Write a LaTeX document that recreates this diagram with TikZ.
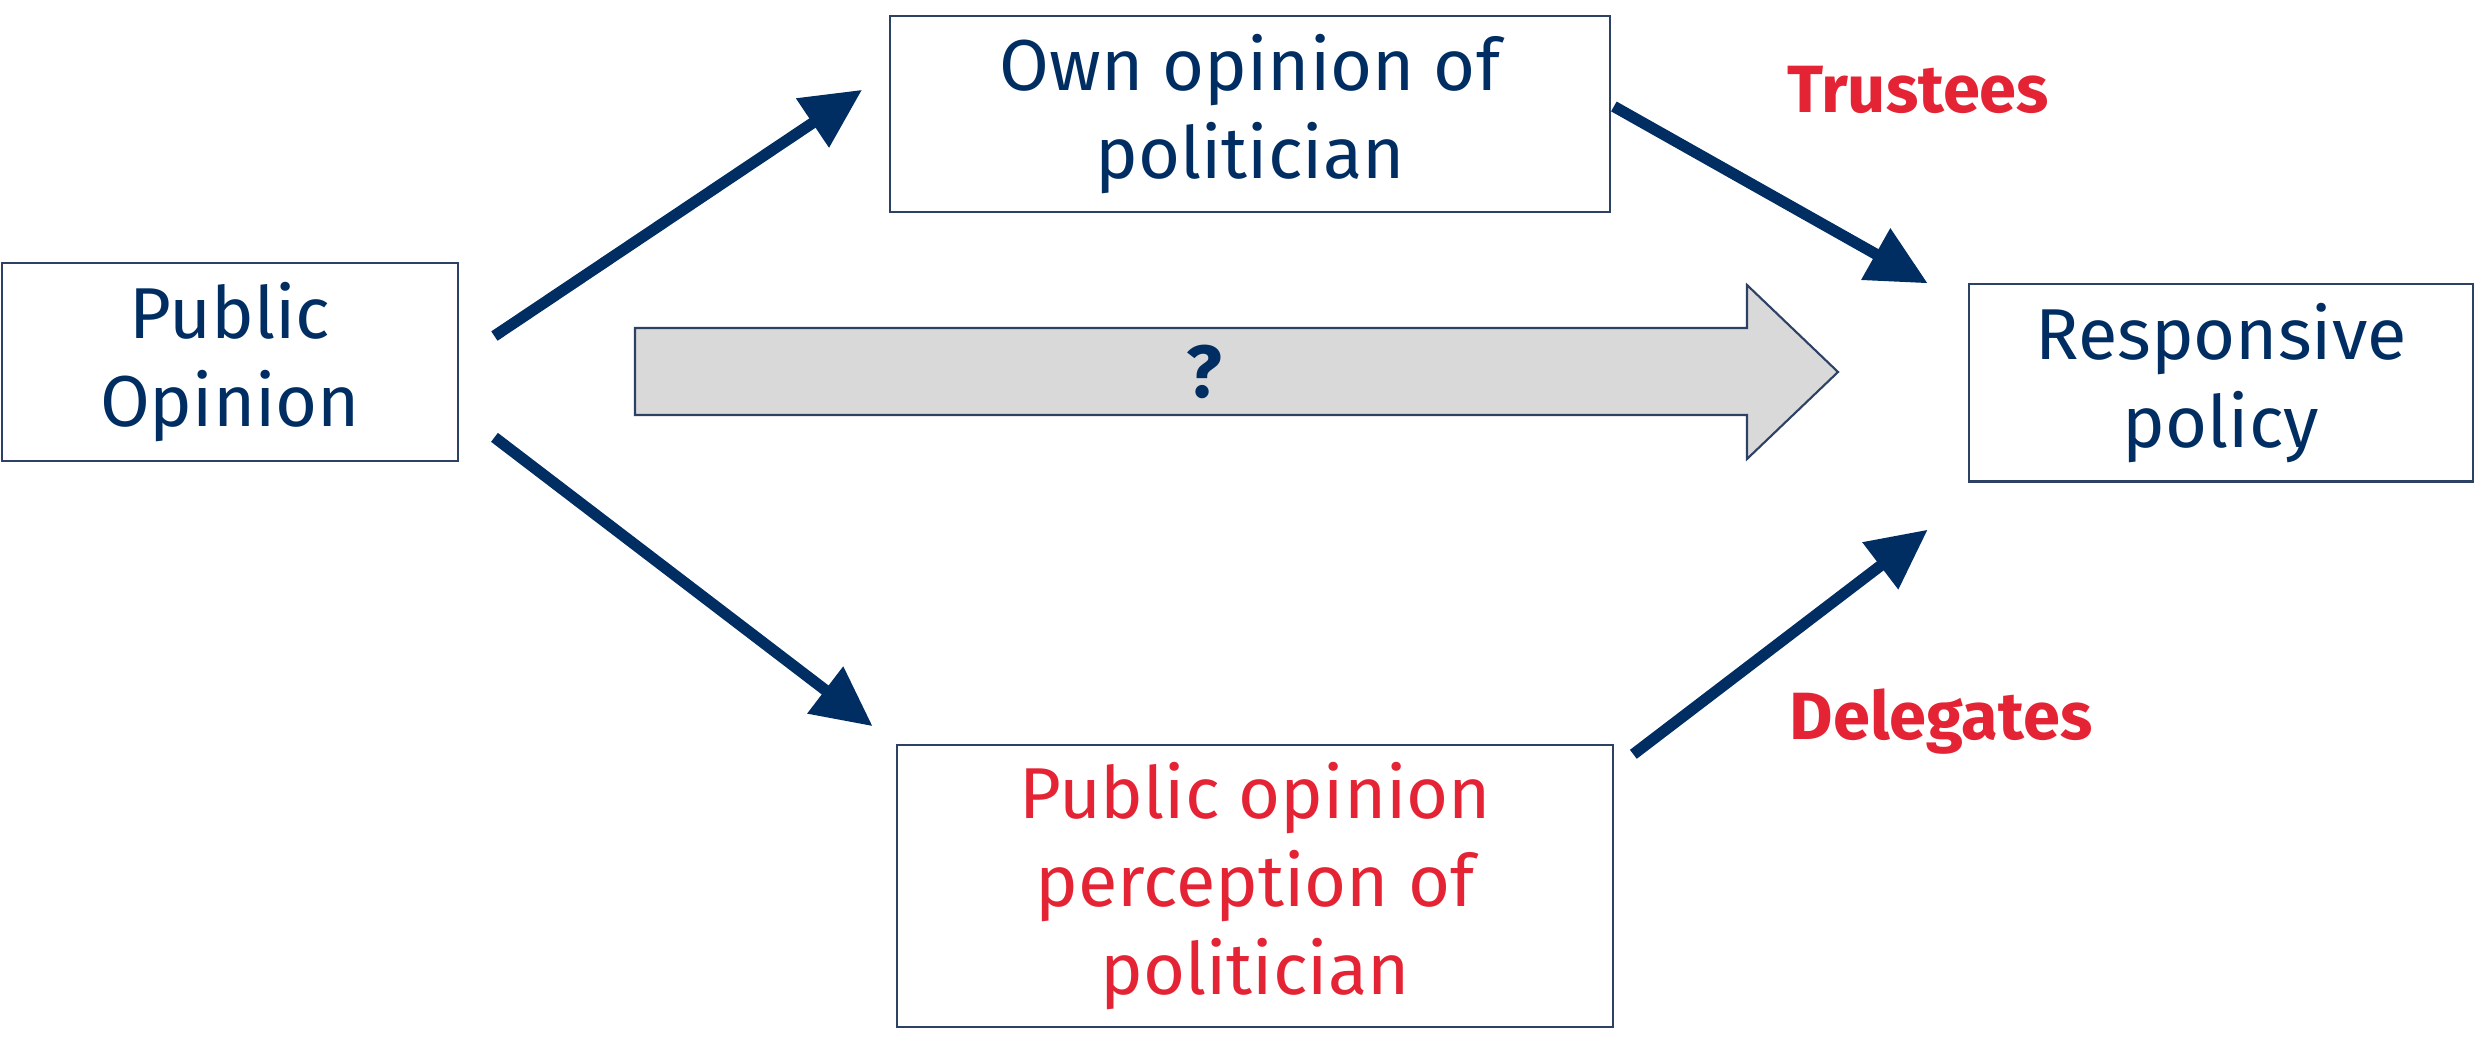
\documentclass[tikz,border=0pt]{standalone}
\usepackage{fontspec}
\setmainfont{Fira Sans}
\usetikzlibrary{arrows.meta, calc}
\definecolor{navy}{RGB}{0,45,98}
\definecolor{redlabel}{RGB}{228,35,52}
\definecolor{boxline}{RGB}{45,65,100}
\definecolor{arrowgray}{RGB}{217,217,217}

\begin{document}
\begin{tikzpicture}[x=0.01cm, y=-0.01cm,
  box/.style={draw=boxline, line width=0.6pt, align=center, inner sep=0pt,
    font=\fontsize{20.5}{25}\selectfont, text=navy},
  link/.style={draw=navy, line width=3.2pt, -{Triangle[length=17pt,width=16pt]}},
  rolelabel/.style={font=\fontsize{19}{19}\selectfont\bfseries, text=redlabel}]
\useasboundingbox (0,0) rectangle (2484,1037);
\node[box, minimum width=4.55cm, minimum height=1.98cm] (po) at (230,362) {Public\\Opinion};
\node[box, minimum width=7.2cm, minimum height=1.96cm] (own) at (1250,114) {Own opinion of\\politician};
\node[box, minimum width=7.16cm, minimum height=2.82cm, text=redlabel] (perc) at (1255,886) {Public opinion\\perception of\\politician};
\node[box, minimum width=5.04cm, minimum height=1.97cm] (resp) at (2221,383) {Responsive\\policy};
% direct link, unknown
\draw[draw=boxline, line width=0.6pt, fill=arrowgray] (635,328) -- (1747,328) -- (1747,285) -- (1838,372) -- (1747,459) -- (1747,415) -- (635,415) -- cycle;
\node[font=\fontsize{21}{21}\selectfont\bfseries, text=navy] (q) at (1204,372) {?};
\draw[link, shorten <=0.43cm, shorten >=0.32cm] ([yshift=0.02cm]po.east) -- ([yshift=0.42cm]own.west);
\draw[link, shorten <=0.45cm, shorten >=0.29cm] ([yshift=-0.48cm]po.east) -- (perc.north west);
\draw[link, shorten <=0.03cm] ([yshift=0.09cm]own.east) -- ([xshift=-0.4cm]resp.north west);
\draw[link, shorten <=0.24cm] ([yshift=-0.25cm]perc.north east) -- ([xshift=-0.4cm,yshift=-0.47cm]resp.south west);
\node[rolelabel] (trustees) at (1918,90) {Trustees};
\node[rolelabel] (delegates) at (1941,722) {Delegates};
\end{tikzpicture}
\end{document}
